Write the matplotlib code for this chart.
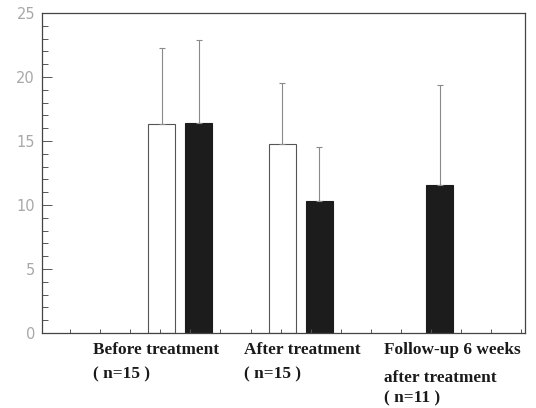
import matplotlib.pyplot as plt
import numpy as np

# values
groups = ['Before treatment', 'After treatment', 'Follow-up 6 weeks']
label_lines = [['Before treatment', '( n=15 )'],
               ['After treatment', '( n=15 )'],
               ['Follow-up 6 weeks', 'after treatment', '( n=11 )']]
white_mean = [16.3, 14.8, np.nan]
white_sd = [6.0, 4.7, np.nan]
black_mean = [16.4, 10.3, 11.6]
black_sd = [6.5, 4.2, 7.8]

fig = plt.figure(figsize=(5.36, 4.08), dpi=100)
ax = fig.add_axes([0.0784, 0.1838, 0.9011, 0.7843])

pos = np.array([3.67, 7.67, 11.67])
w = 0.9
off = 0.615

ax.bar(pos - off, white_mean, w, color='white', edgecolor='#555555', linewidth=0.8)
ax.bar(pos + off, black_mean, w, color='#1c1c1c', edgecolor='#1c1c1c', linewidth=0.8)

ax.errorbar(pos - off, white_mean, yerr=[np.zeros(3), white_sd], fmt='none',
            ecolor='#8a8a8a', elinewidth=0.8, capsize=2, capthick=0.8)
ax.errorbar(pos + off, black_mean, yerr=[np.zeros(3), black_sd], fmt='none',
            ecolor='#8a8a8a', elinewidth=0.8, capsize=2, capthick=0.8)

ax.set_xlim(-0.93, 15.12)
ax.set_ylim(0, 25)
ax.set_xticks(np.arange(0, 16))
ax.set_xticklabels([])
ax.set_yticks([0, 5, 10, 15, 20, 25])
ax.set_yticks(np.arange(0, 26), minor=True)
ax.tick_params(axis='x', direction='in', length=3, width=0.7, color='#555555')
ax.tick_params(axis='y', which='major', direction='in', length=7, width=0.7,
               color='#555555', labelcolor='#a8a8a8', labelsize=10.5, pad=5)
ax.tick_params(axis='y', which='minor', direction='in', length=4, width=0.7, color='#555555')
for s in ax.spines.values():
    s.set_color('#444444')
    s.set_linewidth(0.9)

# category labels under the axis
x_px = [93, 244, 384]
line_y = [[350, 374], [350, 374], [350, 378, 398]]
for lines, xp, ys in zip(label_lines, x_px, line_y):
    for t, yp in zip(lines, ys):
        fig.text(xp / 536, 1 - yp / 408, t, ha='left', va='center',
                 family='Liberation Serif', fontsize=12.4, fontweight='bold',
                 color='#1a1a1a')

fig.savefig('out.png', dpi=100)
